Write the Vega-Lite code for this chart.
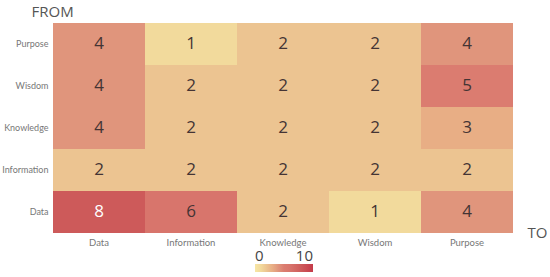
{
  "$schema": "https://vega.github.io/schema/vega-lite/v6.json",
  "width": 460,
  "height": 210,
  "autosize": {"type": "none"},
  "padding": {"left": 53, "top": 23, "right": 37, "bottom": 44},
  "background": "white",
  "config": {
    "view": {"stroke": null},
    "font": "Open Sans",
    "axis": {"grid": false}
  },
  "data": {
    "values": [
      {"from": "Purpose", "to": "Data", "value": 4},
      {"from": "Purpose", "to": "Information", "value": 1},
      {"from": "Purpose", "to": "Knowledge", "value": 2},
      {"from": "Purpose", "to": "Wisdom", "value": 2},
      {"from": "Purpose", "to": "Purpose", "value": 4},
      {"from": "Wisdom", "to": "Data", "value": 4},
      {"from": "Wisdom", "to": "Information", "value": 2},
      {"from": "Wisdom", "to": "Knowledge", "value": 2},
      {"from": "Wisdom", "to": "Wisdom", "value": 2},
      {"from": "Wisdom", "to": "Purpose", "value": 5},
      {"from": "Knowledge", "to": "Data", "value": 4},
      {"from": "Knowledge", "to": "Information", "value": 2},
      {"from": "Knowledge", "to": "Knowledge", "value": 2},
      {"from": "Knowledge", "to": "Wisdom", "value": 2},
      {"from": "Knowledge", "to": "Purpose", "value": 3},
      {"from": "Information", "to": "Data", "value": 2},
      {"from": "Information", "to": "Information", "value": 2},
      {"from": "Information", "to": "Knowledge", "value": 2},
      {"from": "Information", "to": "Wisdom", "value": 2},
      {"from": "Information", "to": "Purpose", "value": 2},
      {"from": "Data", "to": "Data", "value": 8},
      {"from": "Data", "to": "Information", "value": 6},
      {"from": "Data", "to": "Knowledge", "value": 2},
      {"from": "Data", "to": "Wisdom", "value": 1},
      {"from": "Data", "to": "Purpose", "value": 4}
    ]
  },
  "encoding": {
    "x": {
      "field": "to", "type": "nominal",
      "sort": ["Data", "Information", "Knowledge", "Wisdom", "Purpose"],
      "scale": {"paddingInner": 0, "paddingOuter": 0},
      "axis": {
        "title": "TO", "orient": "bottom", "labelAngle": 0, "ticks": false, "domain": false, "grid": false,
        "labelFont": "Lato", "labelFontSize": 9.5, "labelColor": "#777777", "labelPadding": 4,
        "titleFontSize": 15, "titleFontWeight": "normal", "titleColor": "#555555",
        "titleAnchor": "start", "titleAlign": "left", "titleBaseline": "alphabetic",
        "titleX": 474, "titleY": 4
      }
    },
    "y": {
      "field": "from", "type": "nominal",
      "sort": ["Purpose", "Wisdom", "Knowledge", "Information", "Data"],
      "scale": {"paddingInner": 0, "paddingOuter": 0},
      "axis": {
        "title": "FROM", "ticks": false, "domain": false, "grid": false,
        "labelFont": "Lato", "labelFontSize": 9, "labelColor": "#777777", "labelPadding": 5,
        "titleFontSize": 15, "titleFontWeight": "normal", "titleColor": "#555555",
        "titleAngle": 0, "titleAlign": "left", "titleBaseline": "alphabetic",
        "titleX": -22, "titleY": -7
      }
    }
  },
  "layer": [
    {
      "mark": {"type": "rect"},
      "encoding": {
        "color": {
          "field": "value", "type": "quantitative",
          "scale": {
            "domain": [0, 1, 2, 3, 4, 5, 6, 8, 10],
            "range": ["#f7e6a4", "#f2da9c", "#ecc491", "#e8ae85", "#e0957c", "#db7c70", "#d8756c", "#cd5a5a", "#c43a4a"],
            "interpolate": "rgb"
          },
          "legend": {
            "title": null, "orient": "none", "direction": "horizontal",
            "legendX": 202, "legendY": 241, "padding": 0,
            "gradientLength": 58, "gradientThickness": 8,
            "values": [0, 10],
            "labelFontSize": 15, "labelColor": "#444444",
            "labelAlign": "center", "labelOffset": -23
          }
        }
      }
    },
    {
      "mark": {"type": "text", "fontSize": 17},
      "encoding": {
        "text": {"field": "value", "type": "quantitative"},
        "color": {
          "condition": {"test": "datum.value >= 7", "value": "#ffffff"},
          "value": "#443434"
        }
      }
    }
  ]
}
